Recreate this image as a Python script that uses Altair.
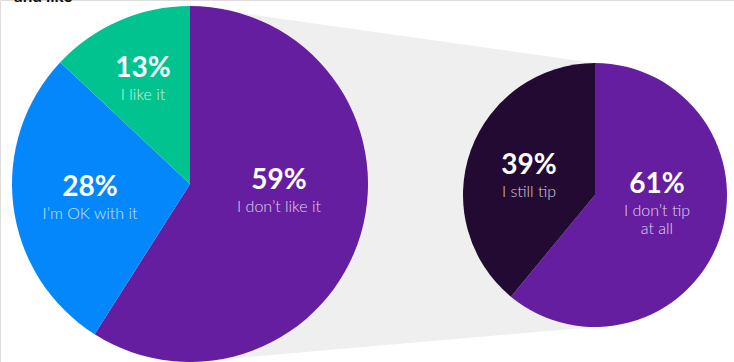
import altair as alt
import pandas as pd

# ---- data ----
left_labels = ["I don't like it", "I'm OK with it", "I like it"]
left_values = [59, 28, 13]
left_colors = ["#661EA0", "#0487FB", "#00C38F"]

right_labels = ["I don't tip at all", "I still tip"]
right_values = [61, 39]
right_colors = ["#661EA0", "#220A33"]

W, H = 734, 362
LC = (190, 184); LR = 178
RC = (595, 195); RR = 132

left_df = pd.DataFrame({"label": left_labels, "value": left_values,
                        "idx": range(len(left_values)), "col": left_colors})
right_df = pd.DataFrame({"label": right_labels, "value": right_values,
                         "idx": range(len(right_values)), "col": right_colors})

xs = alt.Scale(domain=[0, W], range=[0, W])
ys = alt.Scale(domain=[0, H], range=[0, H])

# connector polygon between the two pies (top to top, bottom to bottom)
conn_df = pd.DataFrame({
    "x": [LC[0], RC[0]],
    "top": [LC[1] - LR, RC[1] - RR],
    "bot": [LC[1] + LR, RC[1] + RR],
})
connector = alt.Chart(conn_df).mark_area(color="#EFEFEF").encode(
    x=alt.X("x:Q", scale=xs, axis=None),
    y=alt.Y("top:Q", scale=ys, axis=None),
    y2="bot:Q",
)

def pie(df, center, r):
    return alt.Chart(df).mark_arc(outerRadius=r).encode(
        theta=alt.Theta("value:Q", stack=True),
        order=alt.Order("idx:Q"),
        color=alt.Color("col:N", scale=None, legend=None),
        x=alt.value(center[0]),
        y=alt.value(center[1]),
    )

left_pie = pie(left_df, LC, LR)
right_pie = pie(right_df, RC, RR)

FONT = "Lato"

def pct(v, x, y):
    return alt.Chart(pd.DataFrame({"t": [f"{v}%"]})).mark_text(
        font=FONT, fontSize=28, fontWeight="bold", color="white", baseline="middle", align="center"
    ).encode(text="t:N", x=alt.value(x), y=alt.value(y))

def sub(t, x, y):
    return alt.Chart(pd.DataFrame({"t": [t]})).mark_text(
        font=FONT, fontSize=16, fontWeight=300, color="white", opacity=0.78,
        baseline="middle", align="center"
    ).encode(text="t:N", x=alt.value(x), y=alt.value(y))

texts = [
    pct(left_values[2], 143, 69), sub("I like it", 143, 95),
    pct(left_values[1], 90, 188), sub("I’m OK with it", 90, 214),
    pct(left_values[0], 279, 181), sub("I don’t like it", 279, 207),
    pct(right_values[1], 529, 166), sub("I still tip", 529, 192),
    pct(right_values[0], 657, 185), sub("I don’t tip", 657, 211), sub("at all", 657, 229),
]

title = alt.Chart(pd.DataFrame({"t": ["and like"]})).mark_text(
    font=FONT, fontSize=17, fontWeight="bold", color="#111111", baseline="alphabetic", align="left"
).encode(text="t:N", x=alt.value(14), y=alt.value(2))

chart = alt.layer(connector, left_pie, right_pie, *texts, title).properties(
    width=W, height=H, padding=0, autosize=alt.AutoSizeParams(type="none")
).configure_view(stroke=None).configure(background="white")

chart.save("out.html", embed_options={"renderer": "svg", "actions": False})
